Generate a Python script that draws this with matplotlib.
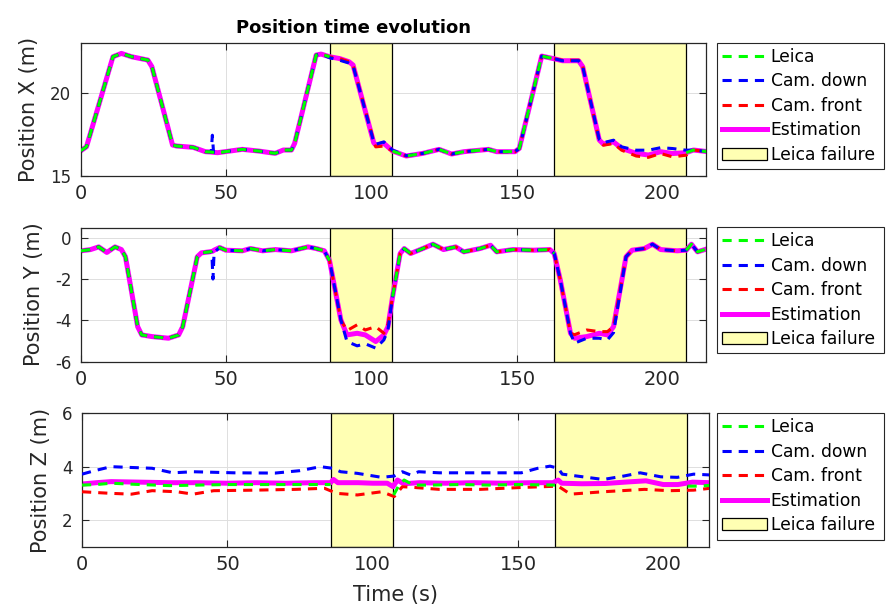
import numpy as np
import matplotlib
matplotlib.use('Agg')
import matplotlib.pyplot as plt
from matplotlib.patches import Patch
from matplotlib.lines import Line2D

nan = np.nan

# failure windows (s)
failures = [(85.5, 107.0), (162.7, 208.0)]

# ---- Position X ----
x_t = [0, 1.9, 11.0, 13.9, 17.4, 23.0, 24.4, 31.5, 32.9, 38.6,
       42.8, 44.8, 45.2, 45.6, 47.0, 55.5, 61.1, 66.8, 69.6, 72.4,
       73.5, 80.9, 82.6, 85.5, 89.0, 92.2, 93.6, 100.7, 101.4, 104.2,
       107.2, 111.9, 117.6, 123.2, 127.5, 131.7, 140.2, 143.0, 149.3, 150.8,
       158.5, 160.6, 162.5, 165.6, 171.2, 172.6, 178.3, 179.7, 183.2, 186.0,
       191.0, 195.2, 199.4, 203.5, 208.2, 210.7, 215.7]
x_est = [16.52, 16.76, 22.16, 22.36, 22.16, 21.96, 21.56, 16.86, 16.80, 16.72,
         16.46, 16.44, 16.43, 16.42, 16.40, 16.60, 16.50, 16.36, 16.56, 16.56,
         16.96, 22.26, 22.32, 22.16, 22.05, 21.86, 21.66, 17.00, 16.86, 16.96,
         16.50, 16.20, 16.36, 16.60, 16.32, 16.46, 16.60, 16.46, 16.46, 16.66,
         22.20, 22.12, 22.05, 21.92, 21.92, 21.56, 17.16, 16.92, 17.05, 16.66,
         16.36, 16.26, 16.46, 16.35, 16.40, 16.56, 16.46]
x_leica = [16.52, 16.76, 22.16, 22.36, 22.16, 21.96, 21.56, 16.86, 16.80, 16.72,
           16.46, 16.44, 16.43, 16.42, 16.40, 16.60, 16.50, 16.36, 16.56, 16.56,
           16.96, 22.26, 22.32, 22.16, nan, nan, nan, nan, nan, nan,
           16.50, 16.20, 16.36, 16.60, 16.32, 16.46, 16.60, 16.46, 16.46, 16.66,
           22.20, 22.12, 22.05, nan, nan, nan, nan, nan, nan, nan,
           nan, nan, nan, nan, 16.40, 16.56, 16.46]
x_down = [16.52, 16.76, 22.16, 22.36, 22.16, 21.96, 21.56, 16.86, 16.80, 16.72,
          16.46, 16.44, 17.45, 16.42, 16.40, 16.60, 16.50, 16.36, 16.56, 16.56,
          16.96, 22.26, 22.32, 22.10, 21.95, 21.78, 21.62, 17.05, 16.90, 17.05,
          16.55, 16.22, 16.36, 16.60, 16.32, 16.46, 16.60, 16.46, 16.46, 16.66,
          22.20, 22.12, 22.05, 21.92, 21.92, 21.56, 17.20, 17.00, 17.15, 16.75,
          16.55, 16.55, 16.70, 16.65, 16.55, 16.56, 16.46]
x_front = [16.52, 16.76, 22.16, 22.36, 22.16, 21.96, 21.56, 16.86, 16.80, 16.72,
           16.46, 16.44, 16.43, 16.42, 16.40, 16.60, 16.50, 16.36, 16.56, 16.56,
           16.96, 22.26, 22.32, 22.16, 22.05, 21.86, 21.66, 17.10, 16.75, 16.80,
           16.50, 16.20, 16.36, 16.60, 16.32, 16.46, 16.60, 16.46, 16.46, 16.66,
           22.20, 22.12, 22.05, 21.95, 21.95, 21.60, 17.10, 16.85, 16.95, 16.55,
           16.20, 16.12, 16.35, 16.15, 16.25, 16.56, 16.46]

# ---- Position Y ----
y_t = [0, 3.3, 6.1, 8.9, 11.7, 13.9, 15.3, 19.5, 20.9, 24.4,
       30.1, 33.6, 35.0, 40.0, 41.4, 44.2, 45.0, 45.4, 45.8, 47.7,
       49.8, 55.5, 58.3, 62.5, 66.8, 72.4, 78.1, 80.9, 83.7, 85.5,
       89.4, 91.5, 95.0, 97.8, 101.4, 104.2, 105.6, 107.2, 109.8, 111.2,
       113.4, 117.6, 121.1, 124.7, 128.9, 131.7, 137.3, 140.9, 143.0, 148.6,
       155.7, 161.3, 162.8, 164.9, 168.4, 169.8, 174.0, 178.3, 181.1, 183.2,
       187.5, 189.6, 193.8, 196.6, 199.4, 205.1, 208.2, 210.0, 212.1, 215.7]
y_est = [-0.63, -0.57, -0.44, -0.71, -0.44, -0.57, -0.92, -4.31, -4.71, -4.79,
         -4.87, -4.71, -4.31, -0.92, -0.73, -0.68, -0.66, -0.64, -0.60, -0.47,
         -0.60, -0.63, -0.52, -0.63, -0.57, -0.63, -0.44, -0.52, -0.63, -1.10,
         -3.98, -4.71, -4.63, -4.71, -5.03, -4.71, -4.31, -2.85, -0.76, -0.52,
         -0.76, -0.52, -0.31, -0.57, -0.44, -0.68, -0.52, -0.36, -0.68, -0.57,
         -0.60, -0.57, -0.76, -2.05, -4.63, -4.87, -4.79, -4.63, -4.71, -4.31,
         -0.92, -0.60, -0.52, -0.31, -0.57, -0.63, -0.60, -0.31, -0.68, -0.52]
y_leica = [-0.63, -0.57, -0.44, -0.71, -0.44, -0.57, -0.92, -4.31, -4.71, -4.79,
           -4.87, -4.71, -4.31, -0.92, -0.73, -0.68, -0.66, -0.64, -0.60, -0.47,
           -0.60, -0.63, -0.52, -0.63, -0.57, -0.63, -0.44, -0.52, -0.63, -1.10,
           nan, nan, nan, nan, nan, nan, nan, -2.85, -0.76, -0.52,
           -0.76, -0.52, -0.31, -0.57, -0.44, -0.68, -0.52, -0.36, -0.68, -0.57,
           -0.60, -0.57, -0.76, nan, nan, nan, nan, nan, nan, nan,
           nan, nan, nan, nan, nan, nan, -0.60, -0.31, -0.68, -0.52]
y_down = [-0.63, -0.57, -0.44, -0.71, -0.44, -0.57, -0.92, -4.31, -4.71, -4.79,
          -4.87, -4.71, -4.31, -0.92, -0.73, -0.68, -0.70, -2.00, -0.70, -0.47,
          -0.60, -0.63, -0.52, -0.63, -0.57, -0.63, -0.44, -0.52, -0.63, -1.10,
          -3.98, -5.03, -5.24, -5.14, -5.35, -4.95, -4.47, -2.85, -0.76, -0.52,
          -0.76, -0.52, -0.31, -0.57, -0.44, -0.68, -0.52, -0.36, -0.68, -0.57,
          -0.60, -0.57, -0.76, -2.05, -4.63, -5.11, -4.87, -4.87, -4.95, -4.60,
          -0.92, -0.60, -0.52, -0.31, -0.57, -0.63, -0.60, -0.31, -0.68, -0.52]
y_front = [-0.63, -0.57, -0.44, -0.71, -0.44, -0.57, -0.92, -4.31, -4.71, -4.79,
           -4.87, -4.71, -4.31, -0.92, -0.73, -0.68, -0.66, -0.64, -0.60, -0.47,
           -0.60, -0.63, -0.52, -0.63, -0.57, -0.63, -0.44, -0.52, -0.63, -1.10,
           -3.98, -4.50, -4.22, -4.47, -4.31, -4.63, -4.20, -2.85, -0.76, -0.52,
           -0.76, -0.52, -0.31, -0.57, -0.44, -0.68, -0.52, -0.36, -0.68, -0.57,
           -0.60, -0.57, -0.76, -2.05, -4.63, -4.70, -4.47, -4.55, -4.55, -4.31,
           -0.92, -0.60, -0.52, -0.31, -0.57, -0.63, -0.60, -0.31, -0.68, -0.52]

# ---- Position Z ----
z_est_t = [0, 5, 10, 20, 30, 40, 50, 60, 70, 80, 85.5, 86.5, 88, 95, 100, 105, 107, 108.5,
           110, 112, 116, 125, 135, 145, 155, 162, 163.8, 165, 172, 180, 188, 194, 200, 205,
           210, 216]
z_est = [3.35, 3.40, 3.44, 3.42, 3.40, 3.40, 3.38, 3.40, 3.38, 3.40, 3.40, 3.52, 3.40, 3.40,
         3.38, 3.38, 3.25, 3.50, 3.40, 3.37, 3.40, 3.38, 3.40, 3.38, 3.40, 3.40, 3.50, 3.38,
         3.36, 3.37, 3.43, 3.47, 3.33, 3.33, 3.42, 3.40]
z_leica_t = [0, 5, 10, 20, 30, 40, 50, 60, 70, 80, 85.5, 95, 107.2, 109, 110.8, 114, 120,
             130, 140, 150, 162.7, 185, 208.3, 212, 216]
z_leica = [3.31, 3.33, 3.38, 3.33, 3.29, 3.31, 3.33, 3.33, 3.33, 3.33, 3.33, nan, 2.94, 3.30,
           3.50, 3.31, 3.31, 3.33, 3.31, 3.33, 3.31, nan, 3.27, 3.27, 3.30]
z_down_t = [0, 4.3, 10, 17, 24.1, 31.2, 38.2, 52.3, 66.4, 74.9, 82, 86.2, 89, 94.7, 103.1,
            107.4, 110.2, 113, 115.8, 122.9, 137, 151.1, 156.8, 161, 163.8, 165.2, 172.3,
            179.3, 186.4, 192, 199.1, 204.8, 210.4, 216]
z_down = [3.72, 3.85, 4.00, 3.97, 3.94, 3.77, 3.81, 3.77, 3.76, 3.85, 4.00, 3.94, 3.81, 3.75,
          3.60, 3.65, 3.81, 3.69, 3.81, 3.77, 3.77, 3.77, 3.94, 4.02, 3.94, 3.72, 3.62, 3.52,
          3.65, 3.77, 3.62, 3.60, 3.72, 3.69]
z_front_t = [0, 10, 17, 24.1, 32.6, 38.2, 45.3, 59.4, 73.5, 83.4, 87.6, 94.7, 103.1, 107.4,
             110.2, 114.4, 122.9, 137, 151.1, 163.8, 168, 179.3, 193.5, 201.9, 210.4, 216]
z_front = [3.06, 3.00, 2.97, 3.10, 3.06, 2.97, 3.10, 3.12, 3.15, 3.19, 3.00, 2.94, 3.06, 2.88,
           3.25, 3.22, 3.15, 3.15, 3.22, 3.27, 2.97, 3.06, 3.15, 3.10, 3.12, 3.19]

plt.rcParams['font.family'] = ['DejaVu Sans']
plt.rcParams['axes.unicode_minus'] = False

DARK = '#262626'
YELLOW = '#ffffb3'
dash = (0, (3.0, 2.3))

fig = plt.figure(figsize=(8.86, 6.08), dpi=100)
ax1 = fig.add_axes([0.0914, 0.7105, 0.7054, 0.2192])
ax2 = fig.add_axes([0.0914, 0.4054, 0.7054, 0.2204])
ax3 = fig.add_axes([0.0926, 0.1008, 0.7080, 0.2194])

panels = [
    (ax1, x_t, x_leica, x_t, x_down, x_t, x_front, x_t, x_est,
     'Position X (m)', (15, 23), [15, 20], 215.0, 0.9298),
    (ax2, y_t, y_leica, y_t, y_down, y_t, y_front, y_t, y_est,
     'Position Y (m)', (-6, 0.5), [-6, -4, -2, 0], 215.0, 0.6262),
    (ax3, z_leica_t, z_leica, z_down_t, z_down, z_front_t, z_front, z_est_t, z_est,
     'Position Z (m)', (1, 6), [2, 4, 6], 215.8, 0.3202),
]

for (ax, tl, leica, td, down, tf, front, te, est,
     ylabel, ylim, yticks, xmax, leg_top) in panels:
    for a, b in failures:
        ax.axvspan(a, b, facecolor=YELLOW, edgecolor='black', lw=0.9, zorder=1)
    ax.plot(te, est, color='#ff00ff', lw=3.6, zorder=2)
    ax.plot(tf, front, color='#ff0000', lw=2.2, ls=dash, zorder=3)
    ax.plot(td, down, color='#0000ff', lw=2.2, ls=dash, zorder=4)
    ax.plot(tl, leica, color='#00ff00', lw=2.2, ls=dash, zorder=5)

    ax.set_xlim(0, xmax)
    ax.set_ylim(*ylim)
    ax.set_xticks([0, 50, 100, 150, 200])
    ax.set_yticks(yticks)
    ax.set_axisbelow(True)
    ax.grid(True, color='#dedede', lw=0.7)
    ax.tick_params(direction='in', top=True, right=True, length=5, width=0.8,
                   color=DARK, labelcolor=DARK)
    ax.tick_params(axis='x', labelsize=14, pad=6)
    ax.tick_params(axis='y', labelsize=12, pad=7)
    for s in ax.spines.values():
        s.set_color(DARK)
        s.set_linewidth(0.9)
    ax.set_ylabel(ylabel, fontsize=15, color=DARK, labelpad=8)

    handles = [
        Line2D([], [], color='#00ff00', lw=2.2, ls=dash),
        Line2D([], [], color='#0000ff', lw=2.2, ls=dash),
        Line2D([], [], color='#ff0000', lw=2.2, ls=dash),
        Line2D([], [], color='#ff00ff', lw=3.6),
        Patch(facecolor=YELLOW, edgecolor='black', lw=0.9),
    ]
    labels = ['Leica', 'Cam. down', 'Cam. front', 'Estimation', 'Leica failure']
    leg = ax.legend(handles, labels, loc='upper left',
                    bbox_to_anchor=(0.8093, leg_top - 0.3, 0.1885, 0.3),
                    bbox_transform=fig.transFigure, mode='expand', borderaxespad=0,
                    fontsize=12.3, handlelength=2.6, handletextpad=0.25,
                    labelspacing=0.38, borderpad=0.3, fancybox=False,
                    framealpha=1, edgecolor=DARK)
    leg.get_frame().set_linewidth(0.8)

ax3.set_xlabel('Time (s)', fontsize=15, color=DARK, labelpad=8)
fig.text(353 / 886, 1 - 33 / 608, 'Position time evolution', ha='center',
         va='baseline', fontsize=13, fontweight='bold', color='black')

fig.savefig('out.png', dpi=100)
